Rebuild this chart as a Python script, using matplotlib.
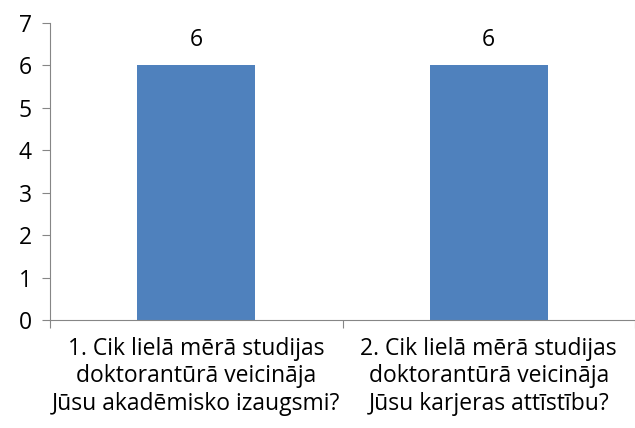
import matplotlib.pyplot as plt
import numpy as np

categories = ["1. Cik lielā mērā studijas\ndoktorantūrā veicināja\nJūsu akadēmisko izaugsmi?",
              "2. Cik lielā mērā studijas\ndoktorantūrā veicināja\nJūsu karjeras attīstību?"]
values = [6, 6]
yticks = [0, 1, 2, 3, 4, 5, 6, 7]

plt.rcParams['font.family'] = ['Open Sans', 'DejaVu Sans']

fig = plt.figure(figsize=(6.35, 4.28), dpi=100)
ax = fig.add_axes([50/635, 108/428, 585/635, 297/428])

x = np.arange(len(categories))
bars = ax.bar(x, values, width=0.405, color='#4F81BD')
for xi, v in zip(x, values):
    ax.text(xi, v + 0.6, str(v), ha='center', va='center', fontsize=16.5, color='#000000')

gray = '#868686'
ax.set_ylim(0, 7)
ax.set_xlim(-0.5, 1.463)
ax.set_yticks(yticks)
ax.set_xticks([-0.5, 0.5, 1.5])
ax.set_xticklabels([])
ax.set_xticks(x, minor=True)
ax.set_xticklabels(categories, minor=True, fontsize=16.5, linespacing=1.2)
ax.tick_params(axis='x', which='minor', length=0, pad=12)
ax.tick_params(axis='x', which='major', length=6, color=gray)
ax.tick_params(axis='y', length=6, color=gray, labelsize=16.5, pad=7)
for s in ['top', 'right']:
    ax.spines[s].set_visible(False)
for s in ['left', 'bottom']:
    ax.spines[s].set_color(gray)

fig.savefig('out.png', dpi=100)
